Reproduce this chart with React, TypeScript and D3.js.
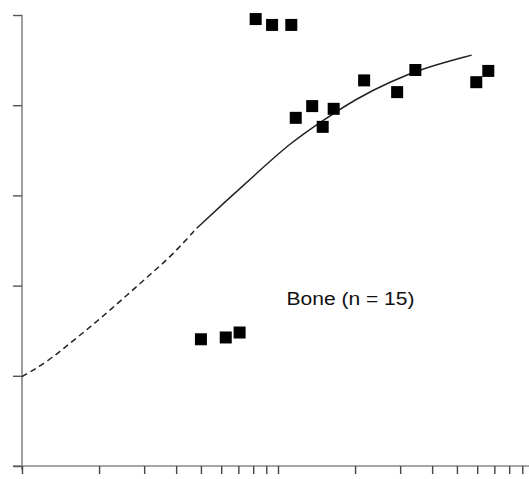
import React, {useEffect, useRef} from 'react';
import * as d3 from 'd3';

// measured points, dose (log scale) vs response
const doseValues = [5.0, 6.25, 7.08, 8.18, 9.48, 11.27, 11.73, 13.6, 14.95, 16.5, 21.7, 29.2, 34.4, 59.5, 66.3];
const responseValues = [28.1, 28.5, 29.6, 99.1, 97.8, 97.8, 77.2, 79.8, 75.2, 79.2, 85.5, 82.9, 87.8, 85.1, 87.6];

// fitted curve: dashed part (extrapolated) and solid part
const dashedDose = [1.0, 1.256, 1.526, 1.855, 2.221, 2.659, 3.183, 3.809, 4.81];
const dashedResp = [19.8, 23.1, 27.05, 30.9, 34.7, 38.6, 42.6, 46.4, 52.7];
const solidDose = [4.81, 6.11, 8.26, 11.14, 15.03, 20.3, 27.4, 36.9, 57.1];
const solidResp = [52.7, 58.2, 64.9, 71.6, 76.7, 81.5, 85.2, 88.2, 91.1];

const yTicks = [0, 20, 40, 60, 80, 100];
const xTicks = [1, 2, 3, 4, 5, 6, 7, 8, 9, 10, 20, 30, 40, 50, 60, 70, 80, 90];

const label = 'Bone (n = 15)';

const width = 529;
const height = 479;

const App = () => {
    const svgRef = useRef(null);

    useEffect(() => {
        const svg = d3.select(svgRef.current);
        svg.selectAll('*').remove();

        const x = d3.scaleLog().domain([1, 100]).range([22, 534]);
        const y = d3.scaleLinear().domain([0, 100]).range([466, 15]);

        // axis lines
        svg.append('line')
            .attr('x1', 13).attr('x2', width)
            .attr('y1', y(0)).attr('y2', y(0))
            .attr('stroke', '#888').attr('stroke-width', 1.6);
        svg.append('line')
            .attr('x1', x(1)).attr('x2', x(1))
            .attr('y1', y(100)).attr('y2', y(0) + 4)
            .attr('stroke', '#888').attr('stroke-width', 1.6);

        const xAxis = svg.append('g')
            .attr('transform', `translate(0,${y(0)})`)
            .call(d3.axisBottom(x).tickValues(xTicks).tickSize(8).tickSizeOuter(0).tickFormat(() => ''));
        xAxis.select('.domain').remove();
        xAxis.selectAll('line').attr('stroke', '#444').attr('stroke-width', 1.4);

        const yAxis = svg.append('g')
            .attr('transform', `translate(${x(1)},0)`)
            .call(d3.axisLeft(y).tickValues(yTicks).tickSize(9).tickSizeOuter(0).tickFormat(() => ''));
        yAxis.select('.domain').remove();
        yAxis.selectAll('line').attr('stroke', '#555').attr('stroke-width', 1.4);

        // smooth through the read-off points so reading noise does not show as kinks
        const line = d3.line()
            .x((d) => x(d[0]))
            .y((d) => y(d[1]))
            .curve(d3.curveBasis);

        svg.append('path')
            .datum(dashedDose.map((d, i) => [d, dashedResp[i]]))
            .attr('d', line)
            .attr('fill', 'none')
            .attr('stroke', '#222')
            .attr('stroke-width', 1.5)
            .attr('stroke-dasharray', '6,4');

        svg.append('path')
            .datum(solidDose.map((d, i) => [d, solidResp[i]]))
            .attr('d', line)
            .attr('fill', 'none')
            .attr('stroke', '#222')
            .attr('stroke-width', 1.5);

        const size = 12;
        svg.append('g')
            .selectAll('rect')
            .data(doseValues.map((d, i) => [d, responseValues[i]]))
            .enter().append('rect')
            .attr('x', (d) => x(d[0]) - size / 2)
            .attr('y', (d) => y(d[1]) - size / 2)
            .attr('width', size)
            .attr('height', size)
            .attr('fill', '#000');

        svg.append('text')
            .attr('x', 286.5)
            .attr('y', 304.5)
            .attr('font-family', 'Liberation Sans, Arial, sans-serif')
            .attr('font-size', 17.5)
            .attr('textLength', 128)
            .attr('lengthAdjust', 'spacingAndGlyphs')
            .attr('fill', '#111')
            .text(label);
    }, []);

    return <svg ref={svgRef} width={width} height={height}
                style={{position: 'absolute', left: 0, top: 0, background: '#fff'}}/>;
};

export default App;
